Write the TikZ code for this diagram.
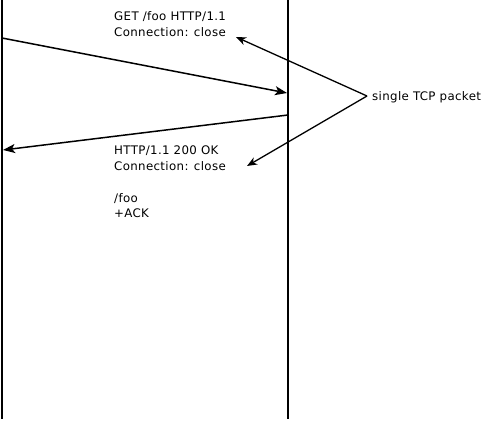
\documentclass[tikz,border=0pt]{standalone}
\usepackage{fontspec}
\setmainfont{DejaVu Sans}[LetterSpace=3]
\usetikzlibrary{arrows.meta}
\begin{document}
\begin{tikzpicture}[x=1pt,y=-1pt,
  lifeline/.style={line width=2pt},
  msg/.style={line width=1.5pt,-{Stealth[length=12pt,width=9pt,inset=3pt]}},
  pointer/.style={line width=1.3pt,-{Stealth[length=10pt,width=8pt,inset=3pt]}},
  txt/.style={anchor=base west,inner sep=0pt,font=\fontsize{11.8}{16}\selectfont}]
\useasboundingbox (0,0) rectangle (486,421);
% lifelines
\coordinate (ltop) at (2,0);
\coordinate (lbot) at (2,419);
\coordinate (rtop) at (288,0);
\coordinate (rbot) at (288,419);
\draw[lifeline] (ltop) -- (lbot);
\draw[lifeline] (rtop) -- (rbot);
% messages
\coordinate (m1s) at (2,38);
\coordinate (m1e) at (287,93);
\coordinate (m2s) at (288,115);
\coordinate (m2e) at (3,150);
\draw[msg] (m1s) -- (m1e);
\draw[msg] (m2s) -- (m2e);
% texts
\node[txt] (t1) at (114,20.7) {GET /foo HTTP/1.1};
\node[txt] (t2) at (114,36.7) {Connection: close};
\node[txt] (t3) at (114,154) {HTTP/1.1 200 OK};
\node[txt] (t4) at (114,170) {Connection: close};
\node[txt] (t5) at (114,202) {/foo};
\node[txt] (t6) at (114,217) {+ACK};
\node[txt] (lbl) at (372,100.5) {single TCP packet};
% pointers
\coordinate (p0) at (367,96);
\coordinate (p1) at (236,37);
\coordinate (p2) at (247,166);
\draw[pointer] (p0) -- (p1);
\draw[pointer] (p0) -- (p2);
\end{tikzpicture}
\end{document}
